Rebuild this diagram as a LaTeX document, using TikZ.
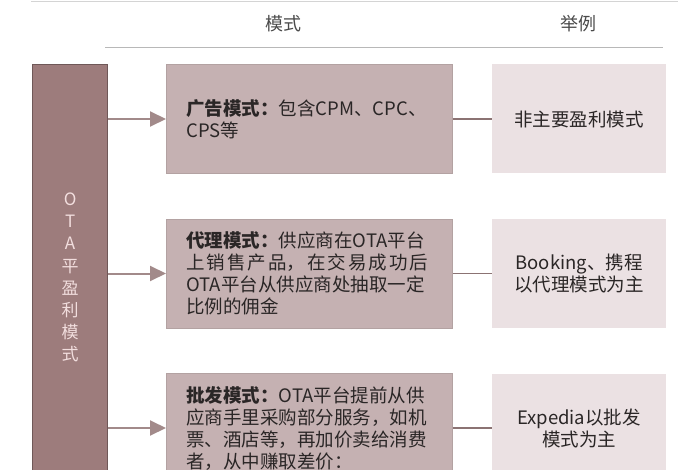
\documentclass[tikz,border=0pt]{standalone}
\usepackage{fontspec}
\setmainfont{Noto Sans CJK SC}
\usetikzlibrary{arrows.meta,positioning}

\definecolor{barfill}{HTML}{9D7C7C}
\definecolor{baredge}{HTML}{6F5858}
\definecolor{bartext}{HTML}{F2DEDE}
\definecolor{modefill}{HTML}{C5B1B2}
\definecolor{modeedge}{HTML}{B3A2A2}
\definecolor{exfill}{HTML}{EBE1E3}
\definecolor{textdark}{HTML}{2A2626}
\definecolor{headtext}{HTML}{4A4A4A}
\definecolor{arrowc}{HTML}{A28A8A}
\definecolor{linkc}{HTML}{8B7373}
\definecolor{rulec}{HTML}{B8B8B8}

\begin{document}
\begin{tikzpicture}[x=1pt, y=-1pt,
  bar/.style={draw=baredge, fill=barfill, line width=1.2pt, minimum width=75pt, minimum height=426pt, inner sep=0pt, align=center, text=bartext, font=\fontsize{17}{22.2}\selectfont},
  modebox/.style={draw=modeedge, fill=modefill, line width=0.8pt, minimum height=109pt, inner xsep=20pt, text width=246pt, align=left, text=textdark, font=\fontsize{18.5}{22}\selectfont},
  exbox/.style={fill=exfill, minimum width=174pt, minimum height=109pt, inner sep=0pt, align=center, text=textdark, font=\fontsize{18.5}{22}\selectfont},
  head/.style={text=headtext, font=\fontsize{18}{20}\selectfont},
  arr/.style={-{Triangle[length=16pt,width=15pt]}, line width=2pt, draw=arrowc, fill=arrowc},
  link/.style={line width=1.2pt, draw=linkc}
]
\useasboundingbox (0,0) rectangle (700,470);
\clip (0,0) rectangle (700,470);

% header
\draw[rulec!60, line width=0.6pt] (31,1) -- (678,1);
\node[head] (hmode) at (283,24) {模式};
\node[head] (hex) at (578,24) {举例};
\draw[rulec, line width=1pt] (105,48) -- (663,48);

% left bar
\node[bar, anchor=north west] (ota) at (32,64) {O\\T\\A\\平\\盈\\利\\模\\式};

% modes
\node[modebox, anchor=west] (ad) at (166,119) {{\bfseries 广告模式：}包含CPM、CPC、\\CPS等};
\node[modebox, anchor=west] (agent) at (166,273.5) {{\bfseries 代理模式：}供应商在OTA平台\\\makebox[242pt][s]{上\hfill 销\hfill 售\hfill 产\hfill 品，\hfill 在\hfill 交\hfill 易\hfill 成\hfill 功\hfill 后}\\OTA平台从供应商处抽取一定\\比例的佣金};
\node[modebox, anchor=west] (whole) at (166,428) {{\bfseries 批发模式：}OTA平台提前从供\\应商手里采购部分服务，如机\\票、酒店等，再加价卖给消费\\者，从中赚取差价：};

% examples
\node[exbox, right=39pt of ad] (adex) {非主要盈利模式};
\node[exbox, right=39pt of agent] (agentex) {Booking、携程\\以代理模式为主};
\node[exbox, right=39pt of whole] (wholeex) {Expedia以批发\\模式为主};

% connectors
\draw[arr] (ota.east |- ad.west) -- (ad.west);
\draw[arr] (ota.east |- agent.west) -- (agent.west);
\draw[arr] (ota.east |- whole.west) -- (whole.west);
\draw[link] (ad) -- (adex);
\draw[link] (agent) -- (agentex);
\draw[link] (whole) -- (wholeex);

\end{tikzpicture}
\end{document}
